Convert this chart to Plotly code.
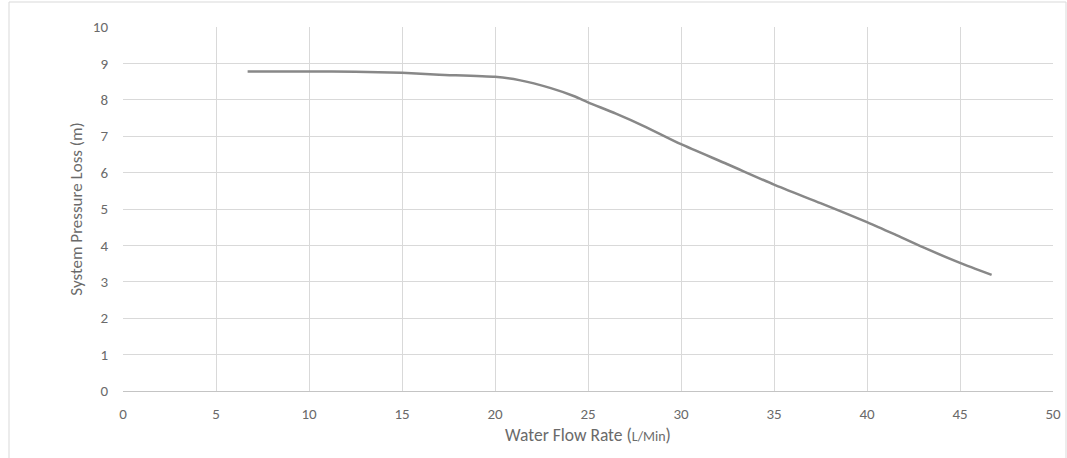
import plotly.graph_objects as go

flow_rate = [6.7, 10, 12.5, 15, 17, 20, 21.3, 23, 24.3, 25, 26.5, 28, 30, 32.5, 35, 37.5, 40, 41.5, 43, 45, 46.7]
pressure_loss = [8.78, 8.78, 8.77, 8.74, 8.69, 8.63, 8.54, 8.32, 8.09, 7.93, 7.62, 7.28, 6.78, 6.23, 5.67, 5.16, 4.64, 4.30, 3.95, 3.52, 3.19]

x_ticks = [0, 5, 10, 15, 20, 25, 30, 35, 40, 45, 50]
y_ticks = [0, 1, 2, 3, 4, 5, 6, 7, 8, 9, 10]

W, H = 1067, 458
L, R, T, B = 123, 14, 27, 67
pw, ph = W - L - R, H - T - B

fig = go.Figure()
fig.add_trace(go.Scatter(x=flow_rate, y=pressure_loss, mode="lines",
                         line=dict(color="#888888", width=2.5, shape="spline", smoothing=0.6),
                         showlegend=False, hoverinfo="skip"))

font_fam = "Carlito, Calibri, Lato, sans-serif"
txt = "#6a6a6a"
fig.update_layout(
    width=W, height=H,
    margin=dict(l=L, r=R, t=T, b=B, autoexpand=False),
    paper_bgcolor="white", plot_bgcolor="white",
    font=dict(family=font_fam, color=txt, size=15),
    xaxis=dict(range=[0, 50], tickvals=x_ticks, showgrid=True, gridcolor="#d9d9d9", gridwidth=1,
               zeroline=False, showline=True, linecolor="#c4c4c4", linewidth=1,
               ticks="", ticklabelstandoff=9, tickfont=dict(size=15, color=txt),
               title=dict(text="Water Flow Rate (<span style='font-size:14px'>L/Min</span>)",
                          font=dict(size=17.5, color=txt), standoff=6)),
    yaxis=dict(range=[0, 10], tickvals=y_ticks, showgrid=True, gridcolor="#d9d9d9", gridwidth=1,
               zeroline=False, showline=False,
               ticks="", ticklabelstandoff=14, tickfont=dict(size=15, color=txt),
               title=dict(text="System Pressure Loss (m)", font=dict(size=17, color=txt), standoff=5)),
)

def px_to_paper_x(px):
    return (px - L) / pw

def px_to_paper_y(py):
    return (H - B - py) / ph

fig.add_shape(type="rect", xref="paper", yref="paper",
              x0=px_to_paper_x(9), x1=px_to_paper_x(1066),
              y0=px_to_paper_y(470), y1=px_to_paper_y(2),
              line=dict(color="#d9d9d9", width=1), fillcolor="rgba(0,0,0,0)", layer="below")

fig.write_html("out.html", config={"displayModeBar": False},
               post_script="document.body.style.margin='0px';document.body.style.overflow='hidden';")
